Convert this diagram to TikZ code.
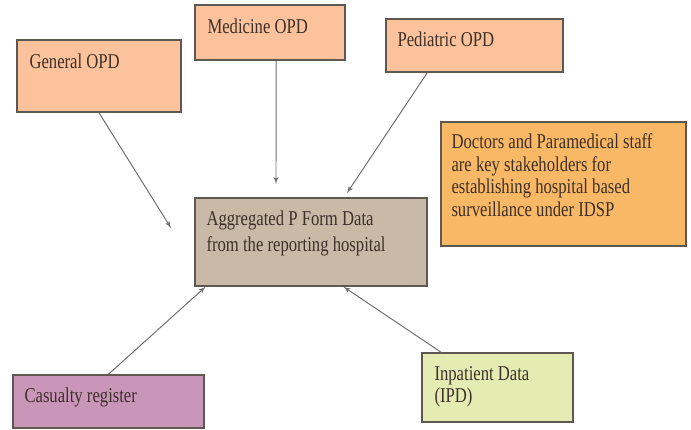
\documentclass[tikz,border=0pt]{standalone}
\usepackage{fontspec}
\setmainfont{Liberation Serif}[FakeStretch=0.79]
\usepackage{xcolor}
\usepackage{tikz}
\usetikzlibrary{arrows}
\usetikzlibrary{positioning}
\tikzset{>=latex'}
\definecolor{peach}{HTML}{FBC29C}
\definecolor{amber}{HTML}{F9B866}
\definecolor{taupe}{HTML}{C8BAA6}
\definecolor{mauve}{HTML}{C996B9}
\definecolor{lime}{HTML}{E4ECB4}
\definecolor{edge}{HTML}{5E5852}
\definecolor{ink}{HTML}{3E3028}
\definecolor{wire}{HTML}{6E6E6E}

\begin{document}
\begin{tikzpicture}[x=0.25mm,y=-0.25mm,
	box/.style={draw=edge,line width=1.1pt,inner sep=0pt},
	txt/.style={inner sep=0pt,anchor=north west,align=left,text=ink,font=\fontsize{15}{16}\selectfont},
	feed/.style={->,draw=wire,line width=0.7pt}]
	\useasboundingbox (0,0) rectangle (691,429);
	% source registers
	\node[box,fill=peach,minimum width=41mm,minimum height=18mm] (general) at (99,76) {};
	\node[txt,below right=3.6mm and 3.25mm of general.north west] (general-txt) {General OPD};
	\node[box,fill=peach,minimum width=37.5mm,minimum height=13.75mm] (medicine) at (270,32.5) {};
	\node[txt,below right=3.6mm and 3.25mm of medicine.north west] (medicine-txt) {Medicine OPD};
	\node[box,fill=peach,minimum width=44.25mm,minimum height=13.25mm] (pediatric) at (474.5,45.5) {};
	\node[txt,below right=3.45mm and 3mm of pediatric.north west] (pediatric-txt) {Pediatric OPD};
	\node[box,fill=mauve,minimum width=47.75mm,minimum height=13.25mm] (casualty) at (108.5,401.5) {};
	\node[txt,below right=3.45mm and 3mm of casualty.north west] (casualty-txt) {Casualty register};
	\node[box,fill=lime,minimum width=37.75mm,minimum height=17.25mm] (inpatient) at (497.5,387.5) {};
	\node[txt,below right=3.45mm and 3.25mm of inpatient.north west] (inpatient-txt) {Inpatient Data\\(IPD)};
	% hospital level
	\node[box,fill=taupe,minimum width=58mm,minimum height=22mm] (aggregated) at (311,242) {};
	\node[txt,font=\fontsize{15}{18}\selectfont,below right=3.45mm and 3mm of aggregated.north west] (aggregated-txt) {Aggregated P Form Data\\from the reporting hospital};
	\node[box,fill=amber,minimum width=61.25mm,minimum height=31mm] (note) at (563.5,184) {};
	\node[txt,below right=3.15mm and 2.75mm of note.north west] (note-txt) {Doctors and Paramedical staff\\are key stakeholders for\\establishing hospital based\\surveillance under IDSP};
	% flows
	\coordinate (general-in) at (171,228);
	\coordinate (medicine-in) at (276,184);
	\coordinate (pediatric-in) at (347,193);
	\draw[feed] (general.south) -- (general-in);
	\draw[feed] (medicine.-78) -- (medicine-in);
	\draw[feed] (pediatric.-150) -- (pediatric-in);
	\draw[feed] (casualty.north) -- (aggregated.-157);
	\draw[feed] (inpatient.148) -- (aggregated.-54);
\end{tikzpicture}
\end{document}
